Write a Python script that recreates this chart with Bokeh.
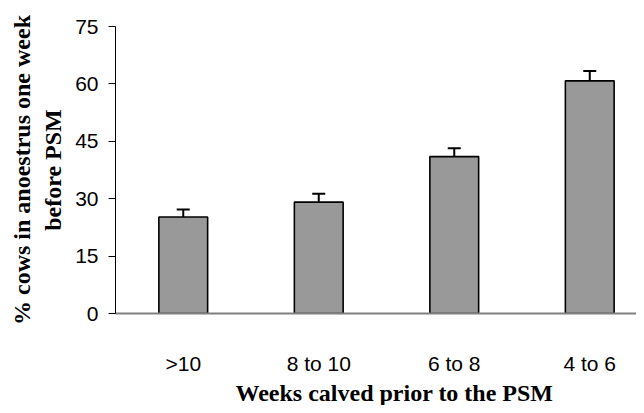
from bokeh.plotting import figure
from bokeh.models import ColumnDataSource, Range1d, FixedTicker, Whisker, TeeHead, Title
from bokeh.embed import file_html
from bokeh.resources import INLINE

categories = [">10", "8 to 10", "6 to 8", "4 to 6"]
values = [25.2, 29.1, 41.0, 60.8]
errors = [2.0, 2.2, 2.2, 2.6]
y_ticks = [0, 15, 30, 45, 60, 75]

xs = list(range(1, len(categories) + 1))
src = ColumnDataSource(dict(
    x=xs, top=values,
    upper=[v + e for v, e in zip(values, errors)],
))

p = figure(width=636, height=405, output_backend="svg", toolbar_location=None,
           x_range=Range1d(0.5, 4.345), y_range=Range1d(0, 75),
           min_border_left=115, min_border_top=26, min_border_bottom=92,
           min_border_right=0)
p.outline_line_color = None
p.grid.grid_line_color = None
p.background_fill_color = "white"

p.vbar(x="x", top="top", bottom=0, width=0.36, source=src,
       fill_color="#999999", line_color="black", line_width=1.6)

w = Whisker(source=src, base="x", upper="upper", lower="top", dimension="height",
            line_color="black", line_width=2,
            upper_head=TeeHead(size=13, line_color="black", line_width=2),
            lower_head=None, level="underlay")
p.add_layout(w)

# y axis
p.yaxis.ticker = FixedTicker(ticks=y_ticks)
p.yaxis.minor_tick_line_color = None
p.yaxis.major_tick_in = 0
p.yaxis.major_tick_out = 7
p.yaxis.major_tick_line_color = "black"
p.yaxis.axis_line_color = "black"
p.yaxis.major_label_standoff = 10
p.yaxis.major_label_text_font = "Liberation Sans"
p.yaxis.major_label_text_font_size = "21px"
p.yaxis.major_label_text_color = "black"
p.yaxis.axis_label = "% cows in anoestrus one week\nbefore PSM"
p.yaxis.axis_label_text_font = "Liberation Serif"
p.yaxis.axis_label_text_font_style = "bold"
p.yaxis.axis_label_text_font_size = "24px"
p.yaxis.axis_label_text_color = "black"
p.yaxis.axis_label_standoff = 6

# x axis
p.xaxis.ticker = FixedTicker(ticks=xs)
p.xaxis.major_label_overrides = {x: c for x, c in zip(xs, categories)}
p.xaxis.minor_tick_line_color = None
p.xaxis.major_tick_line_color = None
p.xaxis.major_tick_in = 0
p.xaxis.major_tick_out = 0
p.xaxis.axis_line_color = "#808080"
p.xaxis.axis_line_width = 2
p.xaxis.major_label_standoff = 38
p.xaxis.major_label_text_font = "Liberation Sans"
p.xaxis.major_label_text_font_size = "21px"
p.xaxis.major_label_text_color = "black"

t = Title(text="Weeks calved prior to the PSM", align="left", offset=120,
          text_font="Liberation Serif", text_font_style="bold",
          text_font_size="24px", text_color="black", standoff=0)
p.add_layout(t, "below")

open("out.html", "w").write(file_html(p, INLINE))
